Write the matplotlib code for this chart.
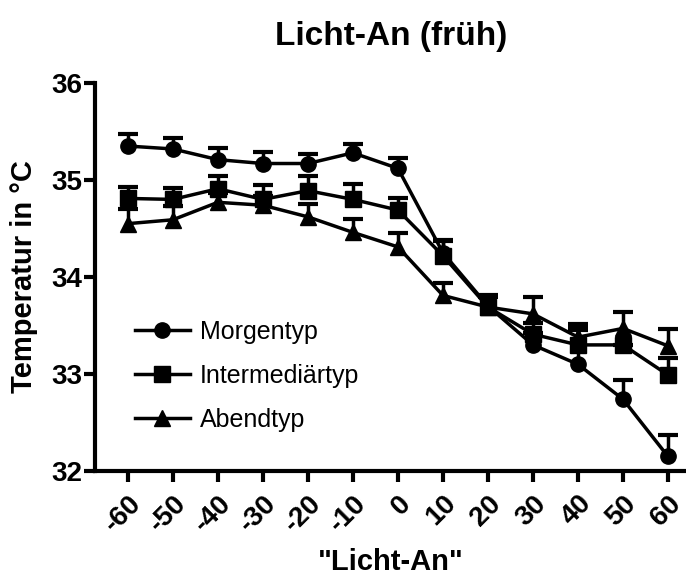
import numpy as np
import matplotlib
matplotlib.use("Agg")
import matplotlib.pyplot as plt

plt.rcParams['font.family'] = ['Liberation Sans', 'DejaVu Sans']

# data
zeit = [-60, -50, -40, -30, -20, -10, 0, 10, 20, 30, 40, 50, 60]
morgen = [35.35, 35.32, 35.21, 35.17, 35.17, 35.28, 35.12, 34.25, 33.70, 33.30, 33.10, 32.74, 32.15]
morgen_err = [0.12, 0.11, 0.12, 0.12, 0.10, 0.09, 0.11, 0.12, 0.10, 0.12, 0.35, 0.20, 0.22]
inter = [34.81, 34.80, 34.91, 34.80, 34.89, 34.80, 34.69, 34.22, 33.69, 33.41, 33.30, 33.30, 32.99]
inter_err = [0.12, 0.12, 0.13, 0.15, 0.15, 0.16, 0.12, 0.16, 0.12, 0.12, 0.20, 0.0, 0.17]
abend = [34.55, 34.59, 34.77, 34.74, 34.62, 34.46, 34.31, 33.81, 33.69, 33.62, 33.38, 33.47, 33.29]
abend_err = [0.15, 0.14, 0.10, 0.10, 0.13, 0.14, 0.14, 0.13, 0.10, 0.17, 0.14, 0.17, 0.17]

labels = ["Morgentyp", "Intermediärtyp", "Abendtyp"]
markers = ["o", "s", "^"]
ticklabels = ["-60", "-50", "-40", "-30", "-20", "-10", "0", "10", "20", "30", "40", "50", "60"]

fig = plt.figure(figsize=(6.86, 5.87), dpi=100)
ax = fig.add_axes([0.1385, 0.1976, 0.8615, 0.661])

for y, err, m, lab in zip([morgen, inter, abend], [morgen_err, inter_err, abend_err], markers, labels):
    y = np.array(y)
    err = np.array(err)
    # only upper error bars, like prism
    ax.vlines(zeit, y, y + err, color="black", lw=2.5, zorder=2)
    ax.plot(zeit, y + err, ls="none", marker="_", ms=14, mew=3, color="black", zorder=2)
    ax.plot(zeit, y, color="black", lw=2.5, marker=m, ms=11 if m != "^" else 11.5,
            label=lab, zorder=3)

ax.set_xlim(-67.3, 64)
ax.set_ylim(32, 36)
ax.set_yticks([32, 33, 34, 35, 36])
ax.set_xticks(zeit)
ax.set_xticklabels(ticklabels, rotation=45, ha="right", rotation_mode="anchor")

for s in ["top", "right"]:
    ax.spines[s].set_visible(False)
for s in ["left", "bottom"]:
    ax.spines[s].set_linewidth(3)
ax.tick_params(width=3, length=8, labelsize=20)
ax.tick_params(axis="x", pad=6)
ax.tick_params(axis="y", pad=1)
for t in ax.get_xticklabels() + ax.get_yticklabels():
    t.set_fontweight("bold")

ax.set_xlabel('"Licht-An"', fontsize=21, fontweight="bold", labelpad=8)
ax.set_ylabel("Temperatur in °C", fontsize=21, fontweight="bold", labelpad=10)
fig.suptitle("Licht-An (früh)", fontsize=24, fontweight="bold", x=0.57, y=0.965)

ax.legend(loc="lower left", bbox_to_anchor=(0.05, 0.075), frameon=False, fontsize=18,
          handlelength=2.2, labelspacing=0.8, handletextpad=0.4, borderaxespad=0)

fig.savefig("out.png", dpi=100)
